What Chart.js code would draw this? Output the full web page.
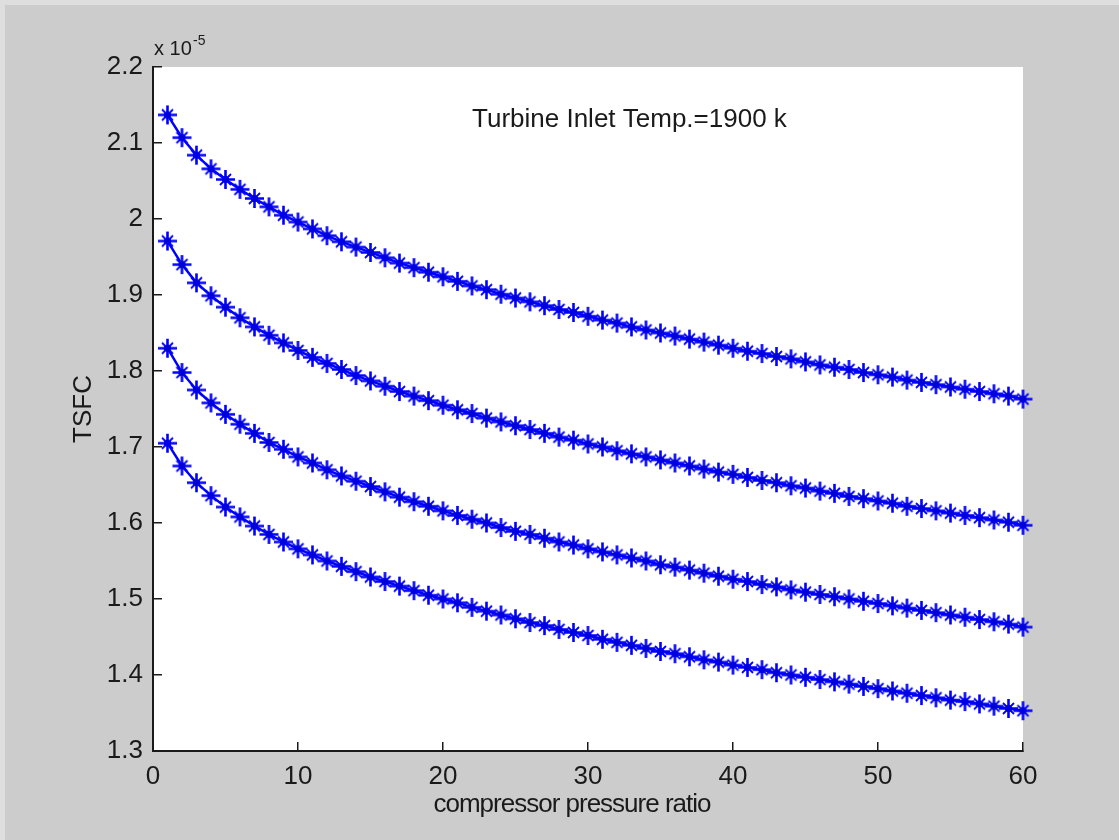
<!DOCTYPE html>
<html>
<head>
<meta charset="utf-8">
<title>TSFC vs compressor pressure ratio</title>
<script src="https://cdn.jsdelivr.net/npm/chart.js@4.4.1/dist/chart.umd.min.js"></script>
<style>
  html, body { margin: 0; padding: 0; width: 100%; height: 100%; overflow: hidden; }
  body { background: #cccccc; box-shadow: inset 5px 5px 0 #dedede; }
  #wrap { position: absolute; left: 0; top: 0; width: 1119px; height: 840px; }
</style>
</head>
<body>
<div id="wrap"><canvas id="tsfc-chart"></canvas></div>
<script>
// TSFC (x 1e-5) against compressor pressure ratio, four curves, Tt4 = 1900 K

const pressureRatio = [
  1, 2, 3, 4, 5, 6, 7, 8, 9, 10, 11, 12, 13, 14, 15, 16, 17, 18, 19, 20,
  21, 22, 23, 24, 25, 26, 27, 28, 29, 30, 31, 32, 33, 34, 35, 36, 37, 38, 39, 40,
  41, 42, 43, 44, 45, 46, 47, 48, 49, 50, 51, 52, 53, 54, 55, 56, 57, 58, 59, 60
];

const tsfcCurve1 = [
  2.137, 2.107, 2.084, 2.066, 2.052, 2.039, 2.027, 2.016, 2.005, 1.996,
  1.987, 1.978, 1.970, 1.963, 1.956, 1.949, 1.942, 1.936, 1.930, 1.924,
  1.918, 1.912, 1.907, 1.901, 1.896, 1.891, 1.886, 1.881, 1.877, 1.872,
  1.867, 1.863, 1.858, 1.854, 1.850, 1.846, 1.842, 1.838, 1.834, 1.830,
  1.826, 1.823, 1.819, 1.816, 1.812, 1.808, 1.805, 1.802, 1.798, 1.795,
  1.792, 1.788, 1.785, 1.782, 1.779, 1.776, 1.773, 1.770, 1.767, 1.763
];

const tsfcCurve2 = [
  1.971, 1.940, 1.916, 1.899, 1.884, 1.870, 1.858, 1.847, 1.837, 1.827,
  1.818, 1.810, 1.802, 1.794, 1.787, 1.780, 1.773, 1.767, 1.761, 1.755,
  1.749, 1.744, 1.738, 1.733, 1.728, 1.723, 1.718, 1.713, 1.709, 1.704,
  1.700, 1.695, 1.691, 1.687, 1.683, 1.679, 1.675, 1.671, 1.667, 1.664,
  1.660, 1.656, 1.653, 1.649, 1.646, 1.642, 1.639, 1.635, 1.632, 1.629,
  1.626, 1.622, 1.619, 1.616, 1.613, 1.610, 1.607, 1.604, 1.601, 1.597
];

const tsfcCurve3 = [
  1.830, 1.798, 1.775, 1.758, 1.743, 1.730, 1.718, 1.706, 1.697, 1.687,
  1.679, 1.670, 1.662, 1.655, 1.648, 1.641, 1.634, 1.628, 1.622, 1.616,
  1.610, 1.605, 1.600, 1.594, 1.589, 1.585, 1.580, 1.575, 1.571, 1.566,
  1.562, 1.558, 1.554, 1.550, 1.545, 1.542, 1.538, 1.534, 1.530, 1.526,
  1.523, 1.519, 1.516, 1.512, 1.509, 1.506, 1.503, 1.500, 1.497, 1.494,
  1.491, 1.488, 1.485, 1.482, 1.479, 1.476, 1.473, 1.470, 1.467, 1.463
];

const tsfcCurve4 = [
  1.705, 1.675, 1.653, 1.636, 1.621, 1.608, 1.596, 1.585, 1.575, 1.566,
  1.558, 1.550, 1.543, 1.536, 1.529, 1.523, 1.517, 1.511, 1.505, 1.500,
  1.495, 1.489, 1.484, 1.479, 1.474, 1.469, 1.465, 1.460, 1.456, 1.452,
  1.447, 1.443, 1.439, 1.435, 1.431, 1.428, 1.424, 1.420, 1.417, 1.413,
  1.410, 1.407, 1.403, 1.400, 1.397, 1.394, 1.391, 1.388, 1.385, 1.382,
  1.379, 1.376, 1.373, 1.370, 1.367, 1.365, 1.362, 1.359, 1.356, 1.353
];

const xTickValues = [0, 10, 20, 30, 40, 50, 60];
const xTickLabels = ['0', '10', '20', '30', '40', '50', '60'];
const yTickValues = [1.3, 1.4, 1.5, 1.6, 1.7, 1.8, 1.9, 2.0, 2.1, 2.2];
const yTickLabels = ['1.3', '1.4', '1.5', '1.6', '1.7', '1.8', '1.9', '2', '2.1', '2.2'];

const xLabel = 'compressor pressure ratio';
const yLabel = 'TSFC';
const yExponent = ['x 10', '-5'];
const note = { text: 'Turbine Inlet Temp.=1900 k', x: 22, y: 2.13 };

const FONT = '"Liberation Sans", Arial, Helvetica, sans-serif';
const BLUE = '#0000ff';
const INK = '#1a1a1a';

// matlab-ish '*' marker
function makeAsterisk() {
  const c = document.createElement('canvas');
  c.width = 21; c.height = 21;
  const g = c.getContext('2d');
  g.strokeStyle = BLUE;
  g.lineWidth = 2.6;
  g.beginPath();
  g.moveTo(1, 10.5); g.lineTo(20, 10.5);
  g.moveTo(10.5, 1); g.lineTo(10.5, 20);
  g.stroke();
  g.lineWidth = 1.8;
  g.beginPath();
  g.moveTo(5, 5); g.lineTo(16, 16);
  g.moveTo(16, 5); g.lineTo(5, 16);
  g.stroke();
  g.fillStyle = '#0000dd';
  g.beginPath(); g.arc(10.5, 10.5, 3.6, 0, Math.PI * 2); g.fill();
  return c;
}
const asterisk = makeAsterisk();

function curve(values) {
  return {
    data: pressureRatio.map((p, i) => ({ x: p, y: values[i] })),
    borderColor: BLUE,
    borderWidth: 2.5,
    pointStyle: asterisk,
    pointRadius: 3,
    tension: 0,
    clip: false
  };
}

const figurePlugin = {
  id: 'figure',
  beforeDraw(chart) {
    const { ctx, chartArea: a } = chart;
    ctx.save();
    ctx.fillStyle = '#ffffff';
    ctx.fillRect(a.left, a.top, a.right - a.left, a.bottom - a.top);
    ctx.restore();
  },
  afterDraw(chart) {
    const { ctx, chartArea: a, scales } = chart;
    ctx.save();
    ctx.fillStyle = INK;

    // annotation, placed in data coords like matlab text()
    ctx.font = '26px ' + FONT;
    ctx.textAlign = 'left';
    ctx.textBaseline = 'middle';
    ctx.fillText(note.text, scales.x.getPixelForValue(note.x), scales.y.getPixelForValue(note.y));

    // x label
    ctx.letterSpacing = '-1px';
    ctx.textAlign = 'center';
    ctx.textBaseline = 'alphabetic';
    ctx.fillText(xLabel, a.left + 419, a.bottom + 61);

    // y label
    ctx.letterSpacing = '0px';
    ctx.save();
    ctx.translate(a.left - 62, (a.top + a.bottom) / 2);
    ctx.rotate(-Math.PI / 2);
    ctx.textAlign = 'center';
    ctx.textBaseline = 'alphabetic';
    ctx.fillText(yLabel, 0, 0);
    ctx.restore();

    // exponent
    ctx.textAlign = 'left';
    ctx.textBaseline = 'alphabetic';
    ctx.font = '20px ' + FONT;
    ctx.fillText(yExponent[0], a.left + 1, a.top - 12);
    ctx.font = '14px ' + FONT;
    ctx.fillText(yExponent[1], a.left + 40, a.top - 22);
    ctx.restore();
  }
};

new Chart(document.getElementById('tsfc-chart'), {
  type: 'line',
  data: {
    datasets: [curve(tsfcCurve1), curve(tsfcCurve2), curve(tsfcCurve3), curve(tsfcCurve4)]
  },
  options: {
    responsive: true,
    maintainAspectRatio: false,
    animation: false,
    events: [],
    layout: { padding: { top: 67, right: 96, left: 0, bottom: 0 } },
    plugins: { legend: { display: false }, tooltip: { enabled: false } },
    scales: {
      x: {
        type: 'linear',
        min: 0, max: 60,
        afterBuildTicks: s => { s.ticks = xTickValues.map(v => ({ value: v })); },
        afterFit: s => { s.height = 89; },
        grid: { drawOnChartArea: false, tickLength: -9, color: INK, lineWidth: 1.5 },
        border: { color: INK, width: 2 },
        ticks: {
          autoSkip: false, maxRotation: 0, padding: 19,
          color: INK, font: { family: FONT, size: 26 },
          callback: (v, i) => xTickLabels[i]
        }
      },
      y: {
        type: 'linear',
        min: 1.3, max: 2.2,
        afterBuildTicks: s => { s.ticks = yTickValues.map(v => ({ value: v })); },
        afterFit: s => { s.width = 153; },
        grid: { drawOnChartArea: false, tickLength: -9, color: INK, lineWidth: 1.5 },
        border: { color: INK, width: 2 },
        ticks: {
          autoSkip: false, padding: 19,
          color: INK, font: { family: FONT, size: 26 },
          callback: (v, i) => yTickLabels[i]
        }
      }
    }
  },
  plugins: [figurePlugin]
});
</script>
</body>
</html>
